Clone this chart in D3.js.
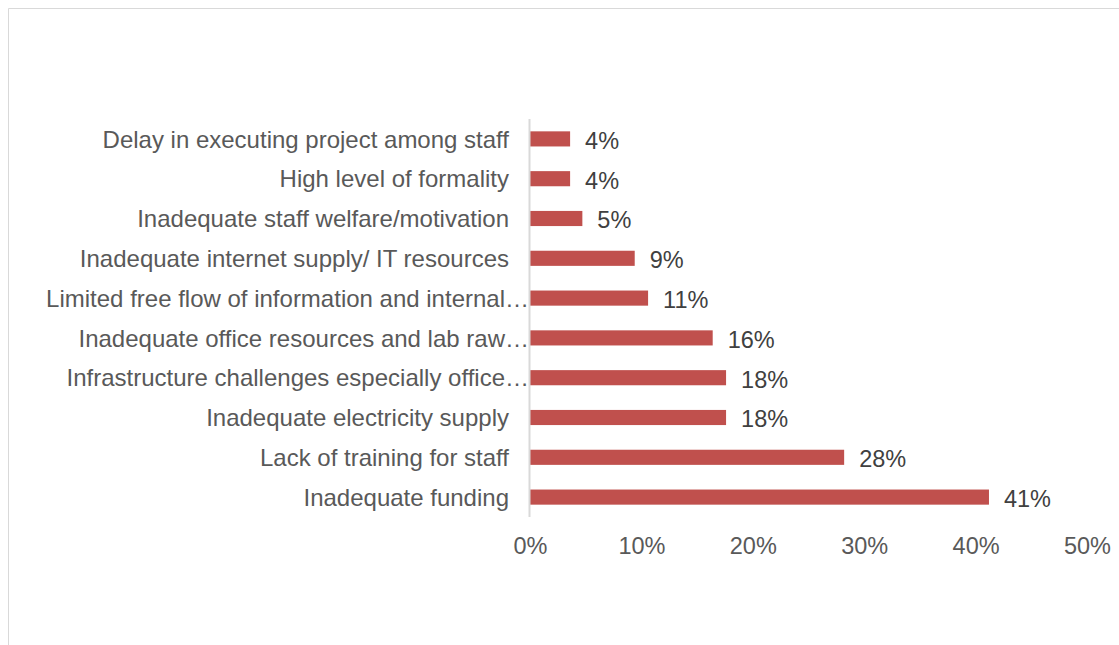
<!DOCTYPE html>
<html>
<head>
<meta charset="utf-8">
<script src="https://cdn.jsdelivr.net/npm/d3@7"></script>
<style>
  html, body { margin: 0; padding: 0; background: #fff; }
  svg { display: block; }
  text { font-family: "Liberation Sans", Arial, sans-serif; }
</style>
</head>
<body>
<svg id="chart" width="1119" height="645"></svg>
<script>
// Challenges reported, share of respondents (top to bottom)
const categories = [
  "Delay in executing project among staff",
  "High level of formality",
  "Inadequate staff welfare/motivation",
  "Inadequate internet supply/ IT resources",
  "Limited free flow of information and internal…",
  "Inadequate office resources and lab raw…",
  "Infrastructure challenges especially office…",
  "Inadequate electricity supply",
  "Lack of training for staff",
  "Inadequate funding"
];
const shares = [0.036, 0.036, 0.047, 0.094, 0.106, 0.164, 0.176, 0.176, 0.282, 0.412];
const tickValues = [0, 0.1, 0.2, 0.3, 0.4, 0.5];

const svg = d3.select("#chart");
const W = 1119, H = 645;
const FS = 23.5;

// outer frame (top and left edges visible)
svg.append("line").attr("x1", 8.5).attr("y1", 8.5).attr("x2", W).attr("y2", 8.5)
  .attr("stroke", "#d9d9d9").attr("stroke-width", 1);
svg.append("line").attr("x1", 8.5).attr("y1", 8.5).attr("x2", 8.5).attr("y2", H)
  .attr("stroke", "#d9d9d9").attr("stroke-width", 1);

const plot = { left: 530, right: 1087, top: 119, bottom: 517 };

const x = d3.scaleLinear().domain([0, 0.5]).range([plot.left, plot.right]);
const y = d3.scaleBand().domain(categories).range([plot.top, plot.bottom]).paddingInner(0.62).paddingOuter(0.31);

// bars
svg.append("g").selectAll("rect")
  .data(categories)
  .join("rect")
  .attr("x", x(0))
  .attr("y", d => y(d))
  .attr("width", (d, i) => x(shares[i]) - x(0))
  .attr("height", y.bandwidth())
  .attr("fill", "#c0504d");

// vertical category axis line
svg.append("line")
  .attr("x1", plot.left - 0.5).attr("x2", plot.left - 0.5)
  .attr("y1", plot.top).attr("y2", plot.bottom)
  .attr("stroke", "#d9d9d9").attr("stroke-width", 2);

// category labels
svg.append("g").selectAll("text")
  .data(categories)
  .join("text")
  .attr("x", d => d.endsWith("…") ? plot.left - 1 : plot.left - 21)
  .attr("y", d => y(d) + y.bandwidth() / 2)
  .attr("dy", "0.36em")
  .attr("text-anchor", "end")
  .attr("font-size", 24)
  .attr("fill", "#595959")
  .text(d => d);

// value labels
const pct = d3.format(".0%");
svg.append("g").selectAll("text")
  .data(categories)
  .join("text")
  .attr("x", (d, i) => x(shares[i]) + 15)
  .attr("y", d => y(d) + y.bandwidth() / 2)
  .attr("dy", "0.42em")
  .attr("font-size", FS)
  .attr("fill", "#404040")
  .text((d, i) => pct(shares[i]));

// x axis tick labels
const xAxis = d3.axisBottom(x).tickValues(tickValues).tickFormat(d3.format(".0%")).tickSize(0).tickPadding(0);
const gx = svg.append("g").attr("transform", `translate(0,${plot.bottom + 20})`).call(xAxis);
gx.select(".domain").remove();
gx.selectAll("text")
  .attr("font-size", FS)
  .attr("font-family", "'Liberation Sans', Arial, sans-serif")
  .attr("fill", "#595959")
  .attr("dy", "0.71em");
</script>
</body>
</html>
